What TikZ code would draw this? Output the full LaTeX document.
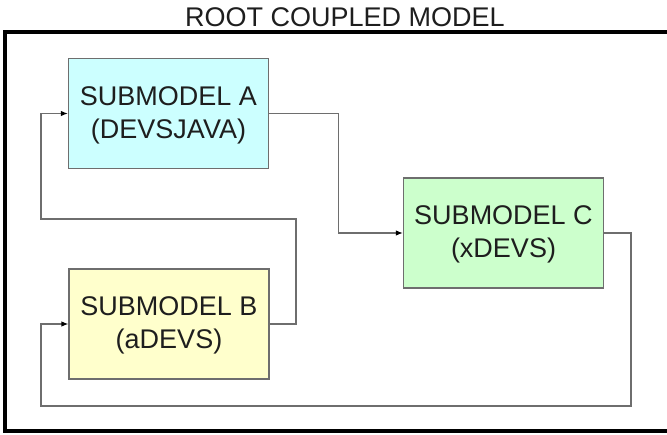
\documentclass[tikz,border=0pt]{standalone}
\usepackage{fontspec}
\setmainfont{Liberation Sans}
\usetikzlibrary{arrows.meta}

\definecolor{colourA}{HTML}{CCFFFF}
\definecolor{colourB}{HTML}{FFFFCC}
\definecolor{colourC}{HTML}{CCFFCC}
\definecolor{edgegrey}{HTML}{6E6E6E}
\definecolor{textgrey}{HTML}{1E1E1E}

\begin{document}
\begin{tikzpicture}[x=1pt, y=-1pt, line join=miter]
  % one unit is one pixel of the reference, y runs downwards
  \tikzset{
    model_font/.style={font=\fontsize{27}{33}\selectfont,text=textgrey},
    model_box/.style={model_font,draw=edgegrey,line width=1.2pt,
      minimum width=200pt,minimum height=110pt,align=center,inner sep=0pt,
      text depth=2pt},
    face_colourA/.style={fill=colourA},
    face_colourB/.style={fill=colourB},
    face_colourC/.style={fill=colourC},
    link_line/.style={draw=edgegrey,line width=1.2pt,
      -{Latex[black,length=7pt,width=5.5pt]}},
  }
  \useasboundingbox (0,0) rectangle (667,435);

  % root coupled model frame, its right side is cut by the page
  \draw[line width=3.5pt] (5,32) rectangle (672,431);
  \node[model_font] (root) at (345,17) {ROOT COUPLED MODEL};

  \node[model_box,face_colourA] (subA) at (168.5,113.5) {SUBMODEL A\\(DEVSJAVA)};
  \node[model_box,face_colourB] (subB) at (169,324) {SUBMODEL B\\(aDEVS)};
  \node[model_box,face_colourC] (subC) at (503.5,233) {SUBMODEL C\\(xDEVS)};

  % couplings
  \draw[link_line] (subA.east) -- ++(69,0) |- (subC.west);
  \draw[link_line] (subB.east) -| (296,219) -- (41,219) |- (subA.west);
  \draw[link_line] (subC.east) -| (631,406) -- (41,406) |- (subB.west);
\end{tikzpicture}
\end{document}
